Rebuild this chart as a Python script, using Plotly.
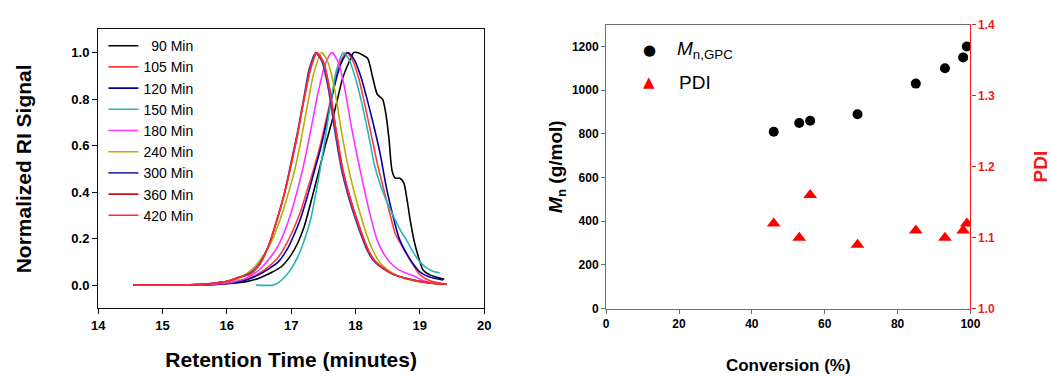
import plotly.graph_objects as go

# ---------------- Left panel: GPC traces (retention time, normalized RI) ----------------
t_90 = [14.55, 15.0, 15.5, 16.0, 16.3, 16.5, 16.7, 16.85, 17.0, 17.1, 17.2, 17.3, 17.43, 17.53, 17.63,
        17.72, 17.8, 17.9, 17.97, 18.04, 18.11, 18.19, 18.27, 18.34, 18.42, 18.47, 18.52, 18.57, 18.62,
        18.69, 18.75, 18.8, 18.85, 18.92, 18.98, 19.05, 19.15, 19.25, 19.38]
v_90 = [0, 0, 0.001, 0.006, 0.015, 0.03, 0.055, 0.08, 0.13, 0.18, 0.25, 0.35, 0.49, 0.6, 0.7,
        0.8, 0.89, 0.96, 1.0, 1.0, 0.99, 0.975, 0.89, 0.82, 0.8, 0.74, 0.63, 0.49, 0.46,
        0.46, 0.44, 0.37, 0.28, 0.18, 0.12, 0.065, 0.045, 0.035, 0.025]

t_105 = [14.55, 15.0, 15.5, 15.9, 16.1, 16.3, 16.5, 16.65, 16.8, 16.95, 17.05, 17.15, 17.25, 17.35, 17.45,
         17.55, 17.65, 17.75, 17.86, 17.95, 18.05, 18.15, 18.25, 18.35, 18.45, 18.55, 18.62, 18.7, 18.8,
         18.9, 19.0, 19.15, 19.4]
v_105 = [0, 0, 0.001, 0.005, 0.012, 0.025, 0.05, 0.08, 0.12, 0.19, 0.25, 0.32, 0.41, 0.5, 0.6,
         0.72, 0.84, 0.95, 1.0, 0.97, 0.89, 0.77, 0.64, 0.51, 0.4, 0.29, 0.22, 0.18, 0.13,
         0.085, 0.045, 0.02, 0.005]

t_120 = [14.55, 15.0, 15.5, 15.9, 16.1, 16.3, 16.5, 16.65, 16.8, 16.95, 17.05, 17.15, 17.25, 17.35, 17.45,
         17.55, 17.65, 17.77, 17.88, 17.98, 18.08, 18.18, 18.28, 18.38, 18.48, 18.58, 18.68, 18.8, 18.9,
         19.0, 19.15, 19.36]
v_120 = [0, 0, 0.001, 0.004, 0.01, 0.022, 0.045, 0.07, 0.1, 0.16, 0.22, 0.29, 0.38, 0.48, 0.58,
         0.7, 0.83, 0.95, 1.0, 0.97, 0.9, 0.8, 0.69, 0.57, 0.42, 0.3, 0.2, 0.133, 0.09,
         0.057, 0.035, 0.022]

t_150 = [16.45, 16.72, 16.8, 16.9, 17.0, 17.1, 17.2, 17.3, 17.4, 17.5, 17.6, 17.7, 17.81, 17.9, 18.0,
         18.1, 18.2, 18.3, 18.4, 18.5, 18.6, 18.7, 18.8, 18.9, 19.0, 19.1, 19.2, 19.31]
v_150 = [0, 0, 0.01, 0.035, 0.07, 0.12, 0.19, 0.28, 0.42, 0.58, 0.76, 0.92, 1.0, 0.97, 0.89,
         0.78, 0.65, 0.51, 0.42, 0.35, 0.29, 0.235, 0.19, 0.14, 0.1, 0.075, 0.06, 0.053]

t_180 = [14.55, 15.0, 15.5, 15.9, 16.1, 16.3, 16.5, 16.65, 16.8, 16.95, 17.05, 17.18, 17.3, 17.42, 17.53,
         17.63, 17.73, 17.83, 17.93, 18.03, 18.13, 18.23, 18.33, 18.45, 18.6, 18.75, 18.9, 19.05, 19.2, 19.35]
v_180 = [0, 0, 0.001, 0.006, 0.014, 0.03, 0.065, 0.11, 0.17, 0.27, 0.36, 0.5, 0.66, 0.83, 0.95,
         1.0, 0.96, 0.85, 0.69, 0.55, 0.42, 0.3, 0.2, 0.13, 0.08, 0.055, 0.04, 0.02, 0.008, 0.004]

t_240 = [14.55, 15.0, 15.5, 15.8, 16.0, 16.2, 16.4, 16.55, 16.7, 16.85, 16.95, 17.05, 17.15, 17.25, 17.35,
         17.47, 17.57, 17.67, 17.77, 17.87, 17.97, 18.07, 18.17, 18.27, 18.37, 18.5, 18.65, 18.85, 19.05,
         19.25, 19.4]
v_240 = [0, 0, 0.002, 0.007, 0.014, 0.03, 0.07, 0.12, 0.19, 0.3, 0.39, 0.49, 0.62, 0.77, 0.91,
         1.0, 0.96, 0.85, 0.68, 0.53, 0.41, 0.31, 0.22, 0.15, 0.1, 0.065, 0.04, 0.022, 0.012,
         0.006, 0.004]

t_300 = [14.55, 15.0, 15.5, 15.8, 16.0, 16.2, 16.35, 16.5, 16.65, 16.8, 16.9, 17.0, 17.1, 17.2, 17.28,
         17.38, 17.48, 17.58, 17.68, 17.78, 17.88, 17.98, 18.08, 18.18, 18.28, 18.43, 18.6, 18.8, 19.0,
         19.2, 19.4]
v_300 = [0, 0, 0.002, 0.008, 0.016, 0.035, 0.05, 0.09, 0.17, 0.3, 0.4, 0.53, 0.66, 0.81, 0.93,
         1.0, 0.96, 0.84, 0.66, 0.5, 0.39, 0.3, 0.22, 0.15, 0.105, 0.07, 0.045, 0.028, 0.016,
         0.008, 0.004]

t_360 = [14.55, 15.0, 15.5, 15.8, 16.0, 16.2, 16.35, 16.5, 16.65, 16.8, 16.9, 17.0, 17.1, 17.2, 17.3,
         17.4, 17.5, 17.6, 17.7, 17.8, 17.9, 18.0, 18.1, 18.2, 18.3, 18.45, 18.6, 18.8, 19.0, 19.2, 19.42]
v_360 = [0, 0, 0.002, 0.008, 0.016, 0.035, 0.046, 0.085, 0.17, 0.3, 0.4, 0.52, 0.65, 0.8, 0.93,
         1.0, 0.96, 0.84, 0.66, 0.5, 0.39, 0.3, 0.22, 0.15, 0.105, 0.07, 0.045, 0.028, 0.016, 0.008, 0.004]

t_420 = [14.55, 15.0, 15.5, 15.8, 16.0, 16.2, 16.35, 16.5, 16.65, 16.8, 16.9, 17.0, 17.1, 17.2, 17.3,
         17.4, 17.5, 17.6, 17.7, 17.8, 17.9, 18.0, 18.1, 18.2, 18.3, 18.45, 18.6, 18.8, 19.0, 19.2, 19.42]
v_420 = [0, 0, 0.002, 0.008, 0.016, 0.035, 0.045, 0.085, 0.17, 0.3, 0.4, 0.52, 0.65, 0.8, 0.93,
         1.0, 0.96, 0.84, 0.66, 0.5, 0.39, 0.3, 0.22, 0.15, 0.105, 0.07, 0.045, 0.028, 0.016, 0.008, 0.004]

trace_labels = ["\u00a0\u00a090 Min", "105 Min", "120 Min", "150 Min", "180 Min",
                "240 Min", "300 Min", "360 Min", "420 Min"]
trace_colors = ["#000000", "#ff3b3b", "#0000a8", "#2ab5b5", "#ff33ff",
                "#b8b000", "#3a3aa8", "#c81414", "#ff2a3a"]
trace_t = [t_90, t_105, t_120, t_150, t_180, t_240, t_300, t_360, t_420]
trace_v = [v_90, v_105, v_120, v_150, v_180, v_240, v_300, v_360, v_420]

# ---------------- Right panel: Mn and PDI vs conversion ----------------
conversion = [46, 53, 56, 69, 85, 93, 98, 99]
mn_gpc = [810, 850, 860, 890, 1030, 1100, 1150, 1200]
pdi = [1.12, 1.10, 1.16, 1.09, 1.11, 1.10, 1.11, 1.12]
right_legend_labels = ["<i>M</i><sub>n,GPC</sub>", "PDI"]

FONT = "Liberation Sans"
RED = "#ee1c1c"
GRAY = "#6e6e6e"
DARK = "#111111"

fig = go.Figure()

for lab, col, tt, vv in zip(trace_labels, trace_colors, trace_t, trace_v):
    fig.add_trace(go.Scatter(
        x=tt, y=vv, mode="lines", name=lab,
        line=dict(color=col, width=1.6, shape="spline", smoothing=0.7),
        xaxis="x", yaxis="y",
    ))

fig.add_trace(go.Scatter(
    x=conversion, y=mn_gpc, mode="markers", name=right_legend_labels[0],
    marker=dict(symbol="circle", size=10, color="#000000"),
    xaxis="x2", yaxis="y2", showlegend=False,
))
fig.add_trace(go.Scatter(
    x=conversion, y=pdi, mode="markers", name=right_legend_labels[1],
    marker=dict(symbol="triangle-up", size=12, color="#ff0000"),
    xaxis="x2", yaxis="y3", showlegend=False,
))

W, H = 1051, 376
def px_x(p):
    return p / W
def px_y(p):
    return 1 - p / H

LX = [px_x(92.7), px_x(485)]
LY = [px_y(313), px_y(23.3)]

bold_tick = dict(family=FONT, size=13, color="#000000", weight="bold")
bold_tick_r = dict(family=FONT, size=12, color="#000000", weight="bold")

# legend of the right panel, drawn as text keys
annotations = [
    dict(text="\u25cf", x=px_x(653), y=px_y(45), xref="paper", yref="paper",
         showarrow=False, font=dict(family="DejaVu Sans", size=15, color="#000000"),
         xanchor="center", yanchor="middle"),
    dict(text=right_legend_labels[0], x=px_x(679), y=px_y(45), xref="paper", yref="paper",
         showarrow=False, font=dict(family=FONT, size=19, color="#000000"),
         xanchor="left", yanchor="middle"),
    dict(text="\u25b2", x=px_x(653), y=px_y(78), xref="paper", yref="paper",
         showarrow=False, font=dict(family="DejaVu Sans", size=15, color="#ff0000"),
         xanchor="center", yanchor="middle"),
    dict(text=right_legend_labels[1], x=px_x(681), y=px_y(78), xref="paper", yref="paper",
         showarrow=False, font=dict(family=FONT, size=19, color="#000000"),
         xanchor="left", yanchor="middle"),
]

fig.update_layout(
    width=W, height=H,
    margin=dict(l=0, r=0, t=0, b=0),
    paper_bgcolor="white", plot_bgcolor="white",
    font=dict(family=FONT, color="#000000"),
    xaxis=dict(
        domain=LX, anchor="y",
        range=[14, 20], dtick=1, tick0=14,
        showline=True, linecolor=DARK, linewidth=1.3, mirror=True,
        ticks="outside", ticklen=5, tickcolor=DARK,
        showgrid=False, zeroline=False, tickfont=bold_tick,
        title=dict(text="Retention Time (minutes)", standoff=20,
                   font=dict(family=FONT, size=21, weight="bold")),
    ),
    yaxis=dict(
        domain=LY, anchor="x",
        range=[-0.1, 1.1], dtick=0.2, tick0=0, tickformat=".1f",
        showline=True, linecolor=DARK, linewidth=1.3, mirror=True,
        ticks="outside", ticklen=5, tickcolor=DARK,
        showgrid=False, zeroline=False, tickfont=bold_tick,
        title=dict(text="Normalized RI Signal", standoff=34,
                   font=dict(family=FONT, size=21, weight="bold")),
    ),
    xaxis2=dict(
        domain=[px_x(609), px_x(979.3)], anchor="y2",
        range=[0, 100], dtick=20, tick0=0,
        showline=True, linecolor=GRAY, linewidth=1.2, mirror=True,
        ticks="outside", ticklen=4, tickcolor=GRAY,
        showgrid=False, zeroline=False, tickfont=bold_tick_r,
        title=dict(text="Conversion (%)", standoff=28,
                   font=dict(family=FONT, size=17, weight="bold")),
    ),
    yaxis2=dict(
        domain=[px_y(313.3), px_y(18.3)], anchor="x2",
        range=[0, 1300], tickvals=[0, 200, 400, 600, 800, 1000, 1200],
        showline=True, linecolor=GRAY, linewidth=1.2,
        ticks="outside", ticklen=4, tickcolor=GRAY,
        showgrid=False, zeroline=False, tickfont=bold_tick_r,
        title=dict(text="<i>M</i><sub>n</sub> (g/mol)", standoff=4,
                   font=dict(family=FONT, size=19, weight="bold")),
    ),
    yaxis3=dict(
        overlaying="y2", side="right", anchor="x2",
        range=[1.0, 1.4], dtick=0.1, tick0=1.0, tickformat=".1f",
        showline=True, linecolor=RED, linewidth=1.2,
        ticks="outside", ticklen=4, tickcolor=RED,
        showgrid=False, zeroline=False,
        tickfont=dict(family=FONT, size=12, color=RED, weight="bold"),
        title=dict(text="PDI", standoff=40,
                   font=dict(family=FONT, size=19, color=RED, weight="bold")),
    ),
    legend=dict(
        x=px_x(98), y=px_y(24), xanchor="left", yanchor="top",
        bgcolor="rgba(0,0,0,0)", borderwidth=0,
        font=dict(family=FONT, size=14, color="#000000"),
    ),
    showlegend=True,
    annotations=annotations,
)

fig.write_html("out.html")
